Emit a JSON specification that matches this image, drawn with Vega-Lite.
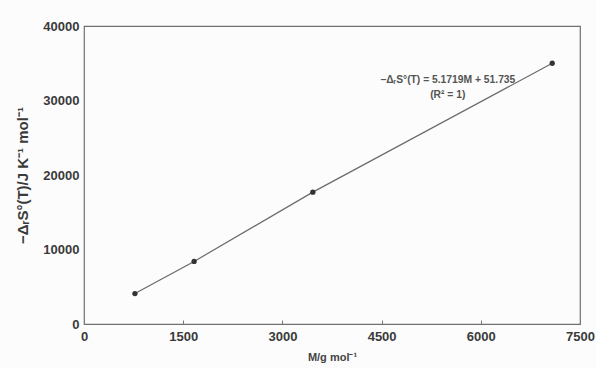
{
  "$schema": "https://vega.github.io/schema/vega-lite/v6.json",
  "autosize": {"type": "none"},
  "width": 496,
  "height": 298,
  "padding": {"left": 84, "top": 26, "right": 16, "bottom": 44},
  "background": "#fcfcfc",
  "config": {
    "font": "Liberation Sans",
    "view": {"stroke": "#6f6f6f", "strokeWidth": 1.2}
  },
  "datasets": {
    "pts": [
      {"M": 770, "S": 4090},
      {"M": 1665, "S": 8400},
      {"M": 3460, "S": 17700},
      {"M": 7080, "S": 35000}
    ],
    "ann": [
      {"M": 5500, "S": 32700, "label": "−ΔᵣS°(T) = 5.1719M + 51.735"},
      {"M": 5500, "S": 30750, "label": "(R² = 1)"}
    ]
  },
  "encoding": {
    "x": {
      "field": "M", "type": "quantitative",
      "scale": {"domain": [0, 7500], "nice": false},
      "axis": {
        "values": [0, 1500, 3000, 4500, 6000, 7500], "format": "d",
        "title": "M/g mol⁻¹", "titleFontSize": 11, "titleFontWeight": "bold", "titleColor": "#444",
        "titlePadding": 8,
        "labelFontSize": 13, "labelFontWeight": "bold", "labelColor": "#3a3a3a", "labelPadding": 10,
        "labelFlush": false,
        "domain": false, "grid": false, "tickSize": -4, "tickColor": "#777"
      }
    },
    "y": {
      "field": "S", "type": "quantitative",
      "scale": {"domain": [0, 40000], "nice": false},
      "axis": {
        "values": [0, 10000, 20000, 30000, 40000], "format": "d",
        "title": "−ΔᵣS°(T)/J K⁻¹ mol⁻¹", "titleFontSize": 15, "titleFontWeight": "bold", "titleColor": "#3a3a3a",
        "titlePadding": 12,
        "labelFontSize": 13, "labelFontWeight": "bold", "labelColor": "#3a3a3a", "labelPadding": 5,
        "labelFlush": false,
        "domain": false, "grid": false, "tickSize": 0
      }
    }
  },
  "layer": [
    {
      "data": {"name": "pts"},
      "mark": {"type": "line", "color": "#6a6a6a", "strokeWidth": 1.2}
    },
    {
      "data": {"name": "pts"},
      "mark": {"type": "point", "filled": true, "color": "#333", "size": 28, "opacity": 1}
    },
    {
      "data": {"name": "ann"},
      "mark": {"type": "text", "fontSize": 10.3, "fontWeight": "bold", "color": "#555", "align": "center", "baseline": "middle"},
      "encoding": {"text": {"field": "label"}}
    }
  ]
}
